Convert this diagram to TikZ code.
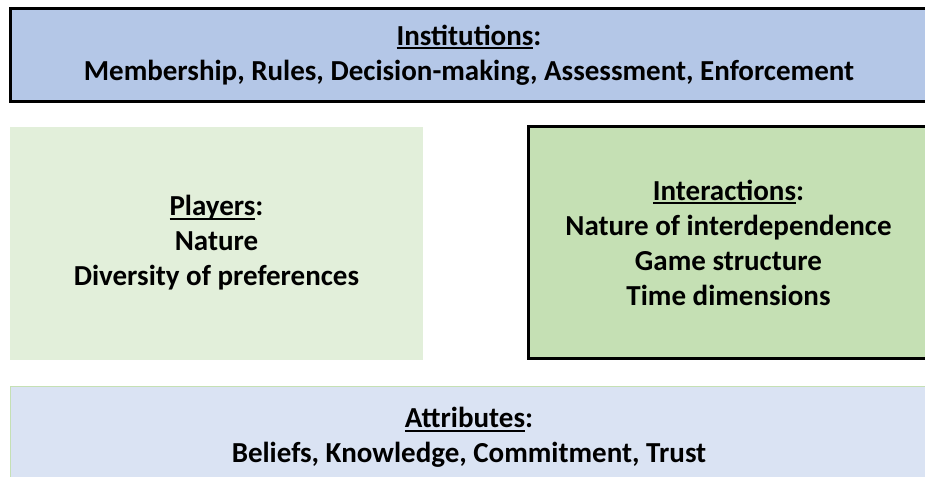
\documentclass[tikz,border=0pt]{standalone}
\usepackage{fontspec}
\setmainfont{Carlito}

% underlined heading word, line at a fixed depth below the baseline
\newcommand\hdword[1]{\setbox0\hbox{#1}\rlap{\rule[-4pt]{\wd0}{2pt}}\box0}

\definecolor{instblue}{HTML}{B4C7E7}
\definecolor{attrblue}{HTML}{DAE3F3}
\definecolor{playgreen}{HTML}{E2EFDA}
\definecolor{intgreen}{HTML}{C5E0B4}

\begin{document}
\begin{tikzpicture}[x=1pt,y=-1pt,
  box/.style={rectangle,inner sep=0pt,align=center,
    font=\fontsize{29}{35}\selectfont\bfseries},
  heavy/.style={draw=black,line width=3pt}]
\useasboundingbox (0,0) rectangle (925,476);
\clip (0,0) rectangle (925,476);

% filled boxes, the wide ones run up to the right edge
\node [box,fill=instblue,minimum width=917pt,minimum height=93pt]
  (inst) at (469,55) {\hdword{Institutions}:\\
  Membership, Rules, Decision-making, Assessment, Enforcement};
\node [box,fill=playgreen,minimum width=413pt,minimum height=233pt]
  (players) at (216.5,243) {\hdword{Players}:\\ Nature\\ Diversity of preferences};
\node [box,fill=intgreen,minimum width=400pt,minimum height=232pt]
  (inter) at (728.5,242.5) {\hdword{Interactions}:\\ Nature of interdependence\\
  Game structure\\ Time dimensions};
\node [box,fill=attrblue,minimum width=917pt,minimum height=102pt]
  (attr) at (469,437.5) {\hdword{Attributes}:\\ Beliefs, Knowledge, Commitment, Trust};

% open borders, left, top and bottom only
\draw [heavy] (inst.north east) -- (inst.north west) -- (inst.south west) -- (inst.south east);
\draw [heavy] (inter.north east) -- (inter.north west) -- (inter.south west) -- (inter.south east);
\draw [intgreen,line width=1pt] (attr.south west) -- (attr.north west) -- (attr.north east);

\end{tikzpicture}
\end{document}
